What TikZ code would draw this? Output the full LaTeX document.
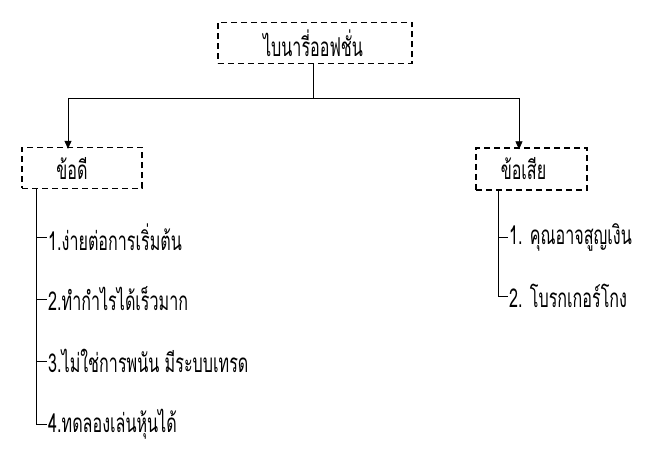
\documentclass[tikz,border=0pt]{standalone}
\usepackage{fontspec}
\newfontfamily\thaifont[Script=Thai,FakeStretch=0.62]{Loma}
\usetikzlibrary{arrows.meta}
\begin{document}
\begin{tikzpicture}[x=1pt,y=-1pt,
  tfont/.style={font=\thaifont\fontsize{26}{28}\selectfont},
  dbox/.style={draw,line width=1.3pt,dash pattern=on 6pt off 4pt,inner sep=0pt,tfont},
  item/.style={anchor=west,inner sep=1pt,tfont},
  conn/.style={draw,line width=0.7pt},
  arr/.style={conn,-{Triangle[length=8pt,width=7pt]}}]
\useasboundingbox (0,0) rectangle (662,457);
\node[dbox,minimum width=194pt,minimum height=41pt] (top) at (315,43) {\hspace*{-4pt}ไบนารี่ออฟชั่น};
\node[dbox,minimum width=120pt,minimum height=41pt] (pro) at (82,168) {\hspace*{-20pt}ข้อดี};
\node[dbox,minimum width=111pt,minimum height=42pt] (con) at (531.5,169) {\hspace*{-16pt}ข้อเสีย};
\coordinate (j) at (313,98);
\coordinate (jl) at (68,98);
\coordinate (jr) at (519,98);
\draw[conn] (top.south -| j) -- (j);
\draw[conn] (jl) -- (jr);
\draw[arr] (jl) -- ([yshift=-2pt]jl |- pro.north);
\draw[arr] (jr) -- ([yshift=-2pt]jr |- con.north);
% left items
\node[item] (p1) at (47,237) {1.ง่ายต่อการเริ่มต้น};
\node[item] (p2) at (47,299) {2.ทำกำไรได้เร็วมาก};
\node[item] (p3) at (47,361) {3.ไม่ใช่การพนัน มีระบบเทรด};
\node[item] (p4) at (47,424) {4.ทดลองเล่นหุ้นได้};
\coordinate (lv) at (36,0);
\draw[conn] (lv |- pro.south) -- (lv |- p4.west) -- (p4.west);
\foreach \n in {p1,p2,p3} \draw[conn] (lv |- \n.west) -- (\n.west);
% right items
\node[item] (c1) at (508,237) {1. คุณอาจสูญเงิน};
\node[item] (c2) at (508,296) {2. โบรกเกอร์โกง};
\coordinate (rv) at (498,0);
\draw[conn] (rv |- con.south) -- (rv |- c2.west) -- (c2.west);
\draw[conn] (rv |- c1.west) -- (c1.west);
\end{tikzpicture}
\end{document}
